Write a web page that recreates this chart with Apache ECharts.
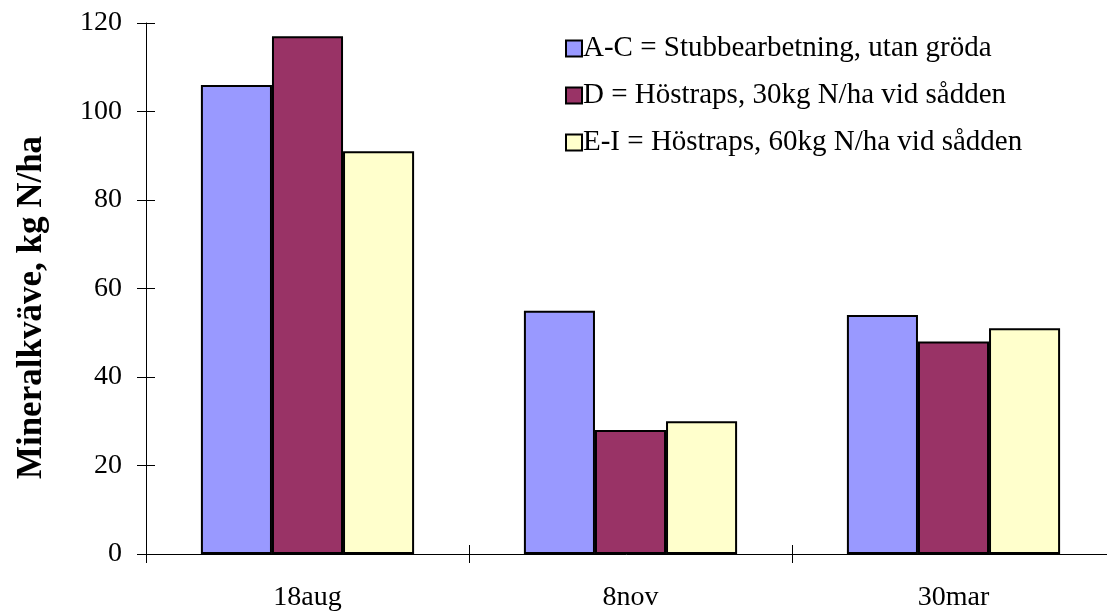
<!DOCTYPE html>
<html>
<head>
<meta charset="utf-8">
<script src="https://cdn.jsdelivr.net/npm/echarts@6/dist/echarts.min.js"></script>
<style>
  html, body { margin: 0; padding: 0; background: #fff; }
  #chart { width: 1107px; height: 611px; }
</style>
</head>
<body>
<div id="chart"></div>
<script>
// Mineral nitrogen in soil per sampling date and treatment
const categories = ['18aug', '8nov', '30mar'];
const seriesNames = [
  'A-C = Stubbearbetning, utan gröda',
  'D = Höstraps, 30kg N/ha vid sådden',
  'E-I = Höstraps, 60kg N/ha vid sådden'
];
const valuesAC = [106, 55, 54];
const valuesD = [117, 28, 48];
const valuesEI = [91, 30, 51];
const yTicks = [0, 20, 40, 60, 80, 100, 120];

const colors = ['#9999FF', '#993366', '#FFFFCC'];
const font = '"Liberation Serif", "Times New Roman", serif';

const chart = echarts.init(document.getElementById('chart'));

function barSeries(name, data, color) {
  return {
    name: name,
    type: 'bar',
    data: data,
    xAxisIndex: 0,
    yAxisIndex: 0,
    barGap: '0%',
    barCategoryGap: '34%',
    itemStyle: { color: color, borderColor: '#000', borderWidth: 2 },
    emphasis: { disabled: true }
  };
}

chart.setOption({
  animation: false,
  color: colors,
  // the plot runs slightly past the right edge of the canvas
  grid: { left: 146, width: 969, top: 23, bottom: 57, outerBoundsMode: 'none', containLabel: false },
  legend: {
    orient: 'vertical',
    left: 560,
    top: 29,
    itemWidth: 16,
    itemHeight: 16,
    itemGap: 18,
    icon: 'rect',
    itemStyle: { borderColor: '#000', borderWidth: 2 },
    textStyle: { fontFamily: font, fontSize: 29, lineHeight: 29, color: '#000', padding: [0, 0, 0, -4] },
    data: seriesNames
  },
  xAxis: [
    {
      type: 'category',
      data: categories,
      axisLine: { lineStyle: { color: '#000', width: 1 } },
      axisTick: { show: true, inside: false, length: 9, lineStyle: { color: '#000' } },
      axisLabel: { fontFamily: font, fontSize: 28, color: '#000', margin: 30 },
      splitLine: { show: false }
    },
    {
      type: 'category',
      data: categories,
      position: 'bottom',
      axisLine: { show: false },
      axisTick: { show: true, inside: true, length: 9, lineStyle: { color: '#000' } },
      axisLabel: { show: false },
      splitLine: { show: false }
    }
  ],
  yAxis: [
    {
      type: 'value',
      min: yTicks[0],
      max: yTicks[yTicks.length - 1],
      interval: 20,
      name: 'Mineralkväve, kg N/ha',
      nameLocation: 'middle',
      nameGap: 97,
      nameTextStyle: {
        fontFamily: font, fontSize: 35, fontWeight: 'bold', color: '#000',
        padding: [0, 38, 0, 0]
      },
      axisLine: { show: true, lineStyle: { color: '#000', width: 1 } },
      axisTick: { show: true, inside: false, length: 9, lineStyle: { color: '#000' } },
      axisLabel: { fontFamily: font, fontSize: 28, color: '#000', margin: 24 },
      splitLine: { show: false }
    },
    {
      type: 'value',
      min: yTicks[0],
      max: yTicks[yTicks.length - 1],
      interval: 20,
      position: 'left',
      axisLine: { show: false },
      axisTick: { show: true, inside: true, length: 9, lineStyle: { color: '#000' } },
      axisLabel: { show: false },
      splitLine: { show: false }
    }
  ],
  series: [
    barSeries(seriesNames[0], valuesAC, colors[0]),
    barSeries(seriesNames[1], valuesD, colors[1]),
    barSeries(seriesNames[2], valuesEI, colors[2])
  ]
});
</script>
</body>
</html>
